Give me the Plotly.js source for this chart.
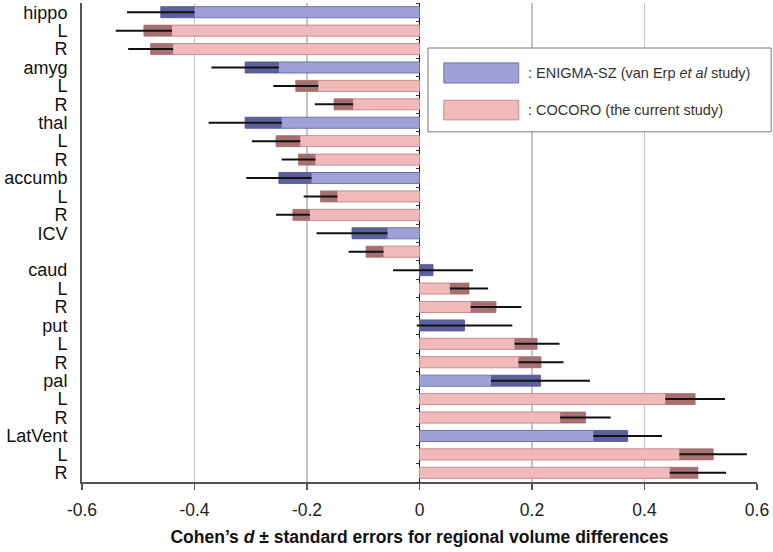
<!DOCTYPE html>
<html>
<head>
<meta charset="utf-8">
<script src="https://cdn.plot.ly/plotly-3.0.1.min.js"></script>
<style>html,body{margin:0;padding:0;background:#fff;}#chart{width:773px;height:552px;}</style>
</head>
<body>
<div id="chart"></div>
<script>
// Row labels (top to bottom)
var rowLabels = ['hippo','L','R','amyg','L','R','thal','L','R','accumb','L','R','ICV','','caud','L','R','put','L','R','pal','L','R','LatVent','L','R'];
// Which study each row belongs to: E = ENIGMA-SZ, C = COCORO
var rowStudy = ['E','C','C','E','C','C','E','C','C','E','C','C','E','C','E','C','C','E','C','C','E','C','C','E','C','C'];
// Cohen's d
var cohensD = [-0.46,-0.49,-0.478,-0.31,-0.22,-0.152,-0.31,-0.255,-0.215,-0.25,-0.176,-0.225,-0.12,-0.095,
               0.024,0.088,0.136,0.08,0.209,0.216,0.215,0.49,0.295,0.37,0.522,0.495];
// Standard errors
var stdErr = [0.06,0.05,0.04,0.06,0.04,0.034,0.065,0.043,0.03,0.058,0.03,0.03,0.063,0.031,
              0.071,0.034,0.045,0.085,0.04,0.04,0.088,0.053,0.045,0.061,0.06,0.05];
var xTickVals = [-0.6,-0.4,-0.2,0,0.2,0.4,0.6];
var xTickText = ['-0.6','-0.4','-0.2','0','0.2','0.4','0.6'];

var rows = rowLabels.map(function(_, i){ return i; });

var styles = {
  E: {fill:'#9da1d5', line:'#7074aa', dark:'#4b5090'},
  C: {fill:'#f1b9b9', line:'#c48f8f', dark:'#94605f'}
};

var traces = [];
['E','C'].forEach(function(s){
  var ys = rows.filter(function(i){return rowStudy[i]===s;});
  var xs = ys.map(function(i){return cohensD[i];});
  traces.push({type:'bar', orientation:'h', y:ys, x:xs, width:0.6,
    marker:{color:styles[s].fill, line:{color:styles[s].line, width:1}},
    hoverinfo:'skip', showlegend:false});
});
['E','C'].forEach(function(s){
  var ys = rows.filter(function(i){return rowStudy[i]===s;});
  var bases = ys.map(function(i){return cohensD[i];});
  var lens = ys.map(function(i){
    var v = cohensD[i], e = stdErr[i];
    return v < 0 ? Math.min(e, -v) : -Math.min(e, v);
  });
  traces.push({type:'bar', orientation:'h', y:ys, x:lens, base:bases, width:0.6,
    marker:{color:styles[s].dark, line:{width:0}}, opacity:0.8,
    hoverinfo:'skip', showlegend:false});
});
traces.push({type:'scatter', mode:'markers', x:cohensD, y:rows, yaxis:'y2',
  marker:{size:1, opacity:0},
  error_x:{type:'data', array:stdErr, symmetric:true, thickness:2, width:0, color:'#111'},
  hoverinfo:'skip', showlegend:false});

var halfTicks = [];
for (var k = 0; k <= rowLabels.length; k++) halfTicks.push(k - 0.5);

var fontFam = 'Liberation Sans, Arial, sans-serif';
var layout = {
  width:773, height:552,
  margin:{l:82, r:16, t:3, b:70},
  paper_bgcolor:'#fff', plot_bgcolor:'#fff',
  barmode:'overlay',
  font:{family:fontFam, color:'#111'},
  xaxis:{range:[-0.6,0.6], tickvals:xTickVals, ticktext:xTickText,
    showgrid:true, gridcolor:'#c4c4c4', gridwidth:1.5,
    zeroline:true, zerolinecolor:'#111', zerolinewidth:1.5,
    showline:true, linecolor:'#555', linewidth:2, mirror:false,
    ticks:'outside', ticklen:6, tickwidth:1.5, tickcolor:'#555',
    tickfont:{size:17.5, color:'#222'}, ticklabelstandoff:5,
    title:{text:'<b>Cohen’s <i>d</i> ± standard errors for regional volume differences</b>',
      font:{size:17.5, color:'#111'}, standoff:12}},
  yaxis:{range:[rowLabels.length-0.5,-0.5], tickvals:rows, ticktext:rowLabels,
    showgrid:false, zeroline:false, showline:true, linecolor:'#555', linewidth:2,
    ticks:'', tickfont:{size:18, color:'#111'}, ticklabelstandoff:9},
  yaxis2:{overlaying:'y', anchor:'free', position:0.5, side:'left',
    range:[rowLabels.length-0.5,-0.5], tickvals:halfTicks, ticks:'outside', ticklen:4,
    tickwidth:1, tickcolor:'#333', showticklabels:false, showgrid:false, zeroline:false, showline:false},
  shapes:[
    {type:'rect', xref:'paper', yref:'paper', x0:0.5126, x1:1.021, y0:0.731, y1:0.906,
      fillcolor:'#fff', line:{color:'#777', width:1}, layer:'above'},
    {type:'rect', xref:'paper', yref:'paper', x0:0.536, x1:0.647, y0:0.833, y1:0.875,
      fillcolor:styles.E.fill, line:{color:styles.E.line, width:1}, layer:'above'},
    {type:'rect', xref:'paper', yref:'paper', x0:0.536, x1:0.647, y0:0.756, y1:0.797,
      fillcolor:styles.C.fill, line:{color:styles.C.line, width:1}, layer:'above'}
  ],
  annotations:[
    {xref:'paper', yref:'paper', x:0.658, y:0.854, xanchor:'left', yanchor:'middle', showarrow:false,
      text:': ENIGMA-SZ (van Erp <i>et al</i> study)', font:{size:14.5, color:'#333'}},
    {xref:'paper', yref:'paper', x:0.658, y:0.777, xanchor:'left', yanchor:'middle', showarrow:false,
      text:': COCORO (the current study)', font:{size:14.5, color:'#333'}}
  ]
};

Plotly.newPlot('chart', traces, layout, {displayModeBar:false, staticPlot:true});
</script>
</body>
</html>
